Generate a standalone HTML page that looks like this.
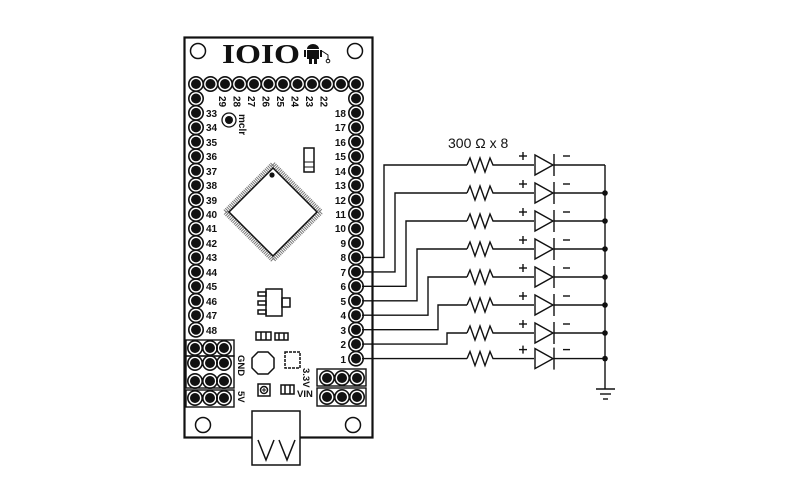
<!DOCTYPE html>
<html><head><meta charset="utf-8"><style>
html,body{margin:0;padding:0;background:#fff;width:800px;height:500px;overflow:hidden}
svg{display:block}
text{font-family:"Liberation Sans",sans-serif;fill:#111}
</style></head><body>
<svg width="800" height="500" viewBox="0 0 800 500" xmlns="http://www.w3.org/2000/svg">
<defs>
<g id="p"><circle r="7.2" fill="none" stroke="#111" stroke-width="1.6"/><circle r="5" fill="#111"/></g>
<g id="row" fill="none" stroke="#111" stroke-width="1.4">
<polyline points="467,0 470,-7 475,7 480,-7 485,7 490,-7 493,0 534,0"/>
<polygon points="535,-10 535,10 553,0" fill="#fff"/>
<line x1="554" y1="-11" x2="554" y2="11"/>
<line x1="554" y1="0" x2="605" y2="0"/>
<line x1="519" y1="-9" x2="527" y2="-9"/><line x1="523" y1="-13" x2="523" y2="-5"/>
<line x1="563" y1="-9" x2="570" y2="-9"/>
</g>
</defs>
<!-- board -->
<rect x="184.5" y="37.5" width="188" height="400" fill="none" stroke="#111" stroke-width="2.2"/>
<circle cx="198" cy="51" r="7.5" fill="none" stroke="#111" stroke-width="1.5"/>
<circle cx="355" cy="51" r="7.5" fill="none" stroke="#111" stroke-width="1.5"/>
<circle cx="203" cy="425" r="7.5" fill="none" stroke="#111" stroke-width="1.5"/>
<circle cx="353" cy="425" r="7.5" fill="none" stroke="#111" stroke-width="1.5"/>
<text x="222" y="63" font-weight="bold" font-size="27" textLength="78" lengthAdjust="spacingAndGlyphs" style="font-family:'Liberation Serif',serif">IOIO</text>
<!-- android -->
<g fill="#111"><path d="M307 49 a6 5 0 0 1 12 0 z"/><rect x="307" y="50" width="12" height="9"/><rect x="304" y="50" width="2" height="7"/><rect x="320" y="50" width="2" height="7"/><rect x="309" y="59" width="3" height="5"/><rect x="314" y="59" width="3" height="5"/></g>
<path d="M322 51 l6 4 v5" stroke="#111" fill="none"/><circle cx="328" cy="61" r="1.8" fill="none" stroke="#111"/>
<!-- top row pins -->
<use href="#p" x="196" y="84"/><use href="#p" x="210.5" y="84"/><use href="#p" x="225" y="84"/><use href="#p" x="239.5" y="84"/><use href="#p" x="254" y="84"/><use href="#p" x="268.5" y="84"/><use href="#p" x="283" y="84"/><use href="#p" x="297.5" y="84"/><use href="#p" x="312" y="84"/><use href="#p" x="326.5" y="84"/><use href="#p" x="341" y="84"/><use href="#p" x="356" y="84"/>
<!-- left column -->
<g>
<use href="#p" x="196" y="98.5"/><use href="#p" x="196" y="112.9"/><use href="#p" x="196" y="127.4"/><use href="#p" x="196" y="141.8"/><use href="#p" x="196" y="156.3"/><use href="#p" x="196" y="170.7"/><use href="#p" x="196" y="185.2"/><use href="#p" x="196" y="199.6"/><use href="#p" x="196" y="214"/><use href="#p" x="196" y="228.5"/><use href="#p" x="196" y="243"/><use href="#p" x="196" y="257.4"/><use href="#p" x="196" y="271.9"/><use href="#p" x="196" y="286.3"/><use href="#p" x="196" y="300.8"/><use href="#p" x="196" y="315.2"/><use href="#p" x="196" y="329.7"/>
</g>
<!-- right column -->
<g>
<use href="#p" x="356" y="98.5"/><use href="#p" x="356" y="112.9"/><use href="#p" x="356" y="127.4"/><use href="#p" x="356" y="141.8"/><use href="#p" x="356" y="156.3"/><use href="#p" x="356" y="170.7"/><use href="#p" x="356" y="185.2"/><use href="#p" x="356" y="199.6"/><use href="#p" x="356" y="214"/><use href="#p" x="356" y="228.5"/><use href="#p" x="356" y="243"/><use href="#p" x="356" y="257.4"/><use href="#p" x="356" y="271.9"/><use href="#p" x="356" y="286.3"/><use href="#p" x="356" y="300.8"/><use href="#p" x="356" y="315.2"/><use href="#p" x="356" y="329.7"/><use href="#p" x="356" y="344.1"/><use href="#p" x="356" y="358.6"/>
</g>
<!-- left labels -->
<g font-size="10" font-weight="bold">
<text x="206" y="117">33</text><text x="206" y="131">34</text><text x="206" y="146">35</text><text x="206" y="160">36</text><text x="206" y="175">37</text><text x="206" y="189">38</text><text x="206" y="204">39</text><text x="206" y="218">40</text><text x="206" y="232">41</text><text x="206" y="247">42</text><text x="206" y="261">43</text><text x="206" y="276">44</text><text x="206" y="290">45</text><text x="206" y="305">46</text><text x="206" y="319">47</text><text x="206" y="334">48</text>
</g>
<g font-size="10" font-weight="bold" text-anchor="end">
<text x="346" y="117">18</text><text x="346" y="131">17</text><text x="346" y="146">16</text><text x="346" y="160">15</text><text x="346" y="175">14</text><text x="346" y="189">13</text><text x="346" y="204">12</text><text x="346" y="218">11</text><text x="346" y="232">10</text><text x="346" y="247">9</text><text x="346" y="261">8</text><text x="346" y="276">7</text><text x="346" y="290">6</text><text x="346" y="305">5</text><text x="346" y="319">4</text><text x="346" y="334">3</text><text x="346" y="348">2</text><text x="346" y="363">1</text>
</g>
<!-- top rotated labels -->
<g font-size="10" font-weight="bold">
<text transform="translate(219,96) rotate(90)">29</text>
<text transform="translate(233.5,96) rotate(90)">28</text>
<text transform="translate(248,96) rotate(90)">27</text>
<text transform="translate(262.5,96) rotate(90)">26</text>
<text transform="translate(277,96) rotate(90)">25</text>
<text transform="translate(291.5,96) rotate(90)">24</text>
<text transform="translate(306,96) rotate(90)">23</text>
<text transform="translate(320.5,96) rotate(90)">22</text>
<text transform="translate(239,114) rotate(90)">mclr</text>
</g>
<!-- mclr button -->
<circle cx="229" cy="120" r="7" fill="none" stroke="#111" stroke-width="1.3"/><circle cx="229" cy="120" r="4" fill="#111"/>
<!-- switch -->
<rect x="304" y="148" width="10" height="24" fill="none" stroke="#111" stroke-width="1.5"/><rect x="304" y="162" width="10" height="5" fill="none" stroke="#111"/>
<!-- chip -->
<polygon points="273,164 321,212 273,260 225,212" fill="none" stroke="#777" stroke-width="5" stroke-dasharray="1 1"/>
<polygon points="273,168 317,212 273,256 229,212" fill="#fff" stroke="#111" stroke-width="1.5"/>
<circle cx="272" cy="175" r="2.6" fill="#111"/>
<!-- regulator etc -->
<g fill="none" stroke="#111" stroke-width="1.5">
<rect x="266" y="289" width="16" height="27"/><rect x="258" y="292" width="8" height="4"/><rect x="258" y="301" width="8" height="4"/><rect x="258" y="310" width="8" height="4"/><rect x="282" y="298" width="8" height="9"/>
<rect x="256" y="332" width="15" height="8"/><line x1="261" y1="332" x2="261" y2="340"/><line x1="266" y1="332" x2="266" y2="340"/>
<rect x="275" y="333" width="13" height="7"/><line x1="279" y1="333" x2="279" y2="340"/><line x1="284" y1="333" x2="284" y2="340"/>
<polygon points="258,352 268,352 274,358 274,368 268,374 258,374 252,368 252,358"/>
<rect x="285" y="352" width="15" height="16" stroke-dasharray="3 1"/>
<rect x="258" y="384" width="12" height="12"/><circle cx="264" cy="390" r="3.5"/>
<rect x="281" y="385" width="13" height="9"/><line x1="285" y1="385" x2="285" y2="394"/><line x1="290" y1="385" x2="290" y2="394"/>
</g>
<line x1="264" y1="388" x2="264" y2="392" stroke="#111"/><line x1="262" y1="390" x2="266" y2="390" stroke="#111"/>
<g font-size="9.5" font-weight="bold">
<text transform="translate(238,355) rotate(90)">GND</text>
<text transform="translate(238,391) rotate(90)">5V</text>
<text transform="translate(303,368) rotate(90)">3.3V</text>
<text x="297" y="397">VIN</text>
</g>
<!-- bottom-left header -->
<rect x="186" y="340" width="48" height="16" fill="none" stroke="#111" stroke-width="1.4"/>
<rect x="186" y="356" width="48" height="32" fill="none" stroke="#111" stroke-width="1.4"/>
<rect x="186" y="390" width="48" height="17" fill="none" stroke="#111" stroke-width="1.4"/>
<use href="#p" x="195" y="348"/><use href="#p" x="210" y="348"/><use href="#p" x="224" y="348"/>
<use href="#p" x="195" y="363"/><use href="#p" x="210" y="363"/><use href="#p" x="224" y="363"/>
<use href="#p" x="195" y="381"/><use href="#p" x="210" y="381"/><use href="#p" x="224" y="381"/>
<use href="#p" x="195" y="398"/><use href="#p" x="210" y="398"/><use href="#p" x="224" y="398"/>
<!-- bottom-right header -->
<rect x="317" y="369" width="49" height="17" fill="none" stroke="#111" stroke-width="1.4"/>
<rect x="317" y="388" width="49" height="18" fill="none" stroke="#111" stroke-width="1.4"/>
<use href="#p" x="327" y="378"/><use href="#p" x="342" y="378"/><use href="#p" x="357" y="378"/>
<use href="#p" x="327" y="397"/><use href="#p" x="342" y="397"/><use href="#p" x="357" y="397"/>
<!-- USB -->
<rect x="252" y="411" width="48" height="54" fill="#fff" stroke="#111" stroke-width="1.5"/>
<path d="M258 440 L266 460 L274 440 M279 440 L287 460 L295 440" fill="none" stroke="#111" stroke-width="1.5"/>
<!-- circuit -->
<g fill="none" stroke="#111" stroke-width="1.4">
<polyline points="362,257.4 384,257.4 384,165 467,165"/>
<polyline points="362,271.9 395,271.9 395,193 467,193"/>
<polyline points="362,286.3 406,286.3 406,221 467,221"/>
<polyline points="362,300.8 417,300.8 417,249 467,249"/>
<polyline points="362,315.2 428,315.2 428,277 467,277"/>
<polyline points="362,329.7 438,329.7 438,305 467,305"/>
<polyline points="362,344.1 447,344.1 447,333 467,333"/>
<polyline points="362,358.6 467,358.6"/>
<line x1="605" y1="165" x2="605" y2="389"/>
<line x1="596" y1="389" x2="615" y2="389"/>
<line x1="600" y1="394" x2="611" y2="394"/>
<line x1="603" y1="399" x2="608" y2="399"/>
</g>
<use href="#row" y="165"/><use href="#row" y="193"/><use href="#row" y="221"/><use href="#row" y="249"/><use href="#row" y="277"/><use href="#row" y="305"/><use href="#row" y="333"/><use href="#row" y="358.6"/>
<g fill="#111"><circle cx="605" cy="193" r="2.8"/><circle cx="605" cy="221" r="2.8"/><circle cx="605" cy="249" r="2.8"/><circle cx="605" cy="277" r="2.8"/><circle cx="605" cy="305" r="2.8"/><circle cx="605" cy="333" r="2.8"/><circle cx="605" cy="358.6" r="2.8"/></g>
<text x="448" y="148" font-size="14">300 Ω x 8</text>
</svg>
</body></html>
